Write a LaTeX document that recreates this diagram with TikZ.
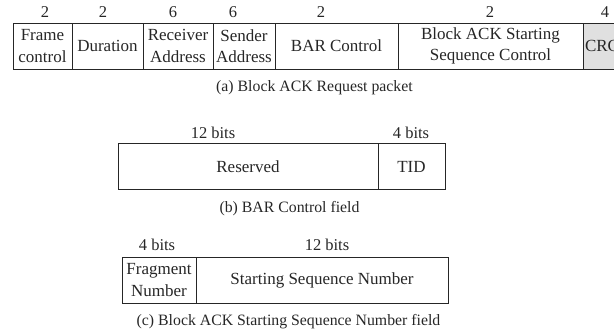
\documentclass[tikz,border=0pt]{standalone}
\usepackage{fontspec}
\setmainfont{Liberation Serif}
\begin{document}
\begin{tikzpicture}[x=1pt,y=-1pt,
  cell/.style={draw=black!85, line width=0.8pt, inner sep=0pt, align=center,
    text=black!85, font=\fontsize{17}{21.5}\selectfont, minimum height=46pt},
  num/.style={inner sep=0pt, text=black!85, font=\fontsize{16.5}{20}\selectfont},
  captext/.style={inner sep=0pt, text=black!85, font=\fontsize{15.8}{19}\selectfont}]
\useasboundingbox (0,0) rectangle (614,335);
\clip (0,0) rectangle (614,335);
% (a) packet
\node[cell, minimum width=59pt]  (fc)  at (42.5,46)  {Frame\\control};
\node[cell, minimum width=71pt]  (dur) at (107.5,46) {Duration};
\node[cell, minimum width=70pt]  (ra)  at (178,46)   {Receiver\\Address};
\node[cell, minimum width=62pt]  (sa)  at (244,46)   {Sender\\Address};
\node[cell, minimum width=123pt] (bar) at (336.5,46) {BAR Control};
\node[cell, minimum width=185pt] (bas) at (490.5,46) {Block ACK Starting\\Sequence Control};
\node[cell, fill=black!12, minimum width=57pt, text width=53pt, inner xsep=2pt, align=left] (crc) at (611.5,46) {CRC};
\node[num] (n1) at (45,12) {2};
\node[num] (n2) at (103,12) {2};
\node[num] (n3) at (173,12) {6};
\node[num] (n4) at (233,12) {6};
\node[num] (n5) at (321,12) {2};
\node[num] (n6) at (490,12) {2};
\node[num] (n7) at (605,12) {4};
\node[captext] (capa) at (314.5,88) {(a) Block ACK Request packet};
% (b) BAR control field
\node[cell, minimum width=260pt] (res) at (248,166.5) {Reserved};
\node[cell, minimum width=67pt]  (tid) at (411.5,166.5) {TID};
\node[num] (b1) at (213,133) {12 bits};
\node[num] (b2) at (411,133) {4 bits};
\node[captext] (capb) at (289.5,209) {(b) BAR Control field};
% (c) starting sequence number field
\node[cell, minimum width=74pt]  (frag) at (159,280) {Fragment\\Number};
\node[cell, minimum width=252pt] (ssn)  at (322,280) {Starting Sequence Number};
\node[num] (c1) at (157,245) {4 bits};
\node[num] (c2) at (327,245) {12 bits};
\node[captext] (capc) at (288.5,322) {(c) Block ACK Starting Sequence Number field};
\end{tikzpicture}
\end{document}
